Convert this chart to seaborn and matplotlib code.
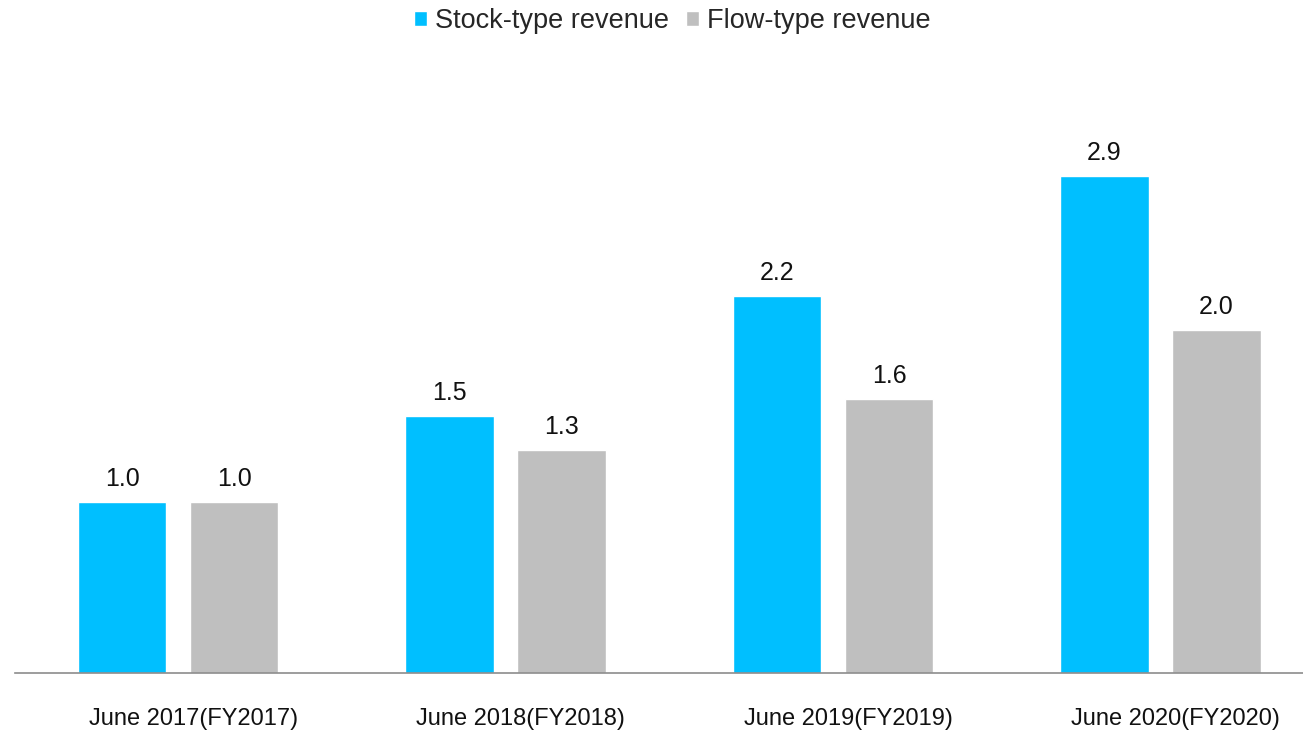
import matplotlib
matplotlib.use("Agg")
import matplotlib.pyplot as plt
import matplotlib.transforms as mtransforms
import pandas as pd
import seaborn as sns

# Revenue index by fiscal year (FY2017 = 1.0)
periods = ["June 2017(FY2017)", "June 2018(FY2018)", "June 2019(FY2019)", "June 2020(FY2020)"]
stock_revenue = [1.0, 1.5, 2.2, 2.9]
flow_revenue = [1.0, 1.3, 1.6, 2.0]
series_names = ["Stock-type revenue", "Flow-type revenue"]
series_colors = ["#00BFFF", "#BFBFBF"]

df = pd.DataFrame({
    "period": periods * 2,
    "value": stock_revenue + flow_revenue,
    "series": [series_names[0]] * len(periods) + [series_names[1]] * len(periods),
})

sns.set_theme(style="white")
plt.rcParams["font.family"] = ["Liberation Sans", "DejaVu Sans"]

fig = plt.figure(figsize=(13.03, 7.33), dpi=100)
ax = fig.add_axes([0.0115, 0.0819, 0.9885, 0.7817])

sns.barplot(
    data=df, x="period", y="value", hue="series",
    palette=series_colors, saturation=1, errorbar=None,
    width=0.684, gap=0.213, ax=ax,
)

for container in ax.containers:
    ax.bar_label(container, fmt="%.1f", padding=8, fontsize=18, color="#111111")

ax.set_xlim(-0.498, 3.435)
ax.set_ylim(0, 3.345)
ax.set_xlabel("")
ax.set_ylabel("")
ax.set_yticks([])
for side in ("left", "right", "top"):
    ax.spines[side].set_visible(False)
ax.spines["bottom"].set_color("#8c8c8c")
ax.spines["bottom"].set_linewidth(1.2)
ax.tick_params(axis="x", length=0, pad=25, labelsize=17, labelcolor="#111111")

shift = mtransforms.ScaledTranslation(15 / 100, 0, fig.dpi_scale_trans)
for lbl in ax.get_xticklabels():
    lbl.set_transform(lbl.get_transform() + shift)

handles, labels = ax.get_legend_handles_labels()
ax.get_legend().remove()
fig.legend(
    handles, labels, loc="center", bbox_to_anchor=(0.516, 1 - 21 / 733),
    ncol=2, frameon=False, fontsize=19.5,
    handlelength=0.48, handleheight=0.48, handletextpad=0.27, columnspacing=0.65,
)

fig.savefig("out.png", dpi=100)
